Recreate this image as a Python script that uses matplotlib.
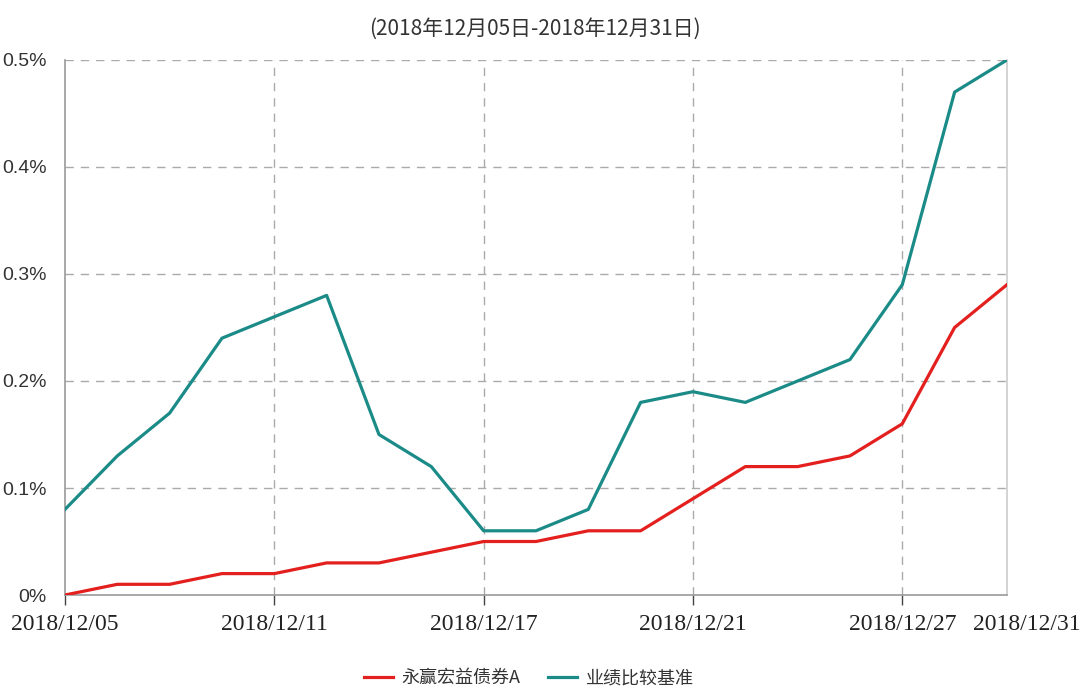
import matplotlib
matplotlib.use("Agg")
import matplotlib.pyplot as plt
import matplotlib.transforms as mtransforms
from matplotlib.ticker import FuncFormatter

dates = ["2018/12/05", "2018/12/06", "2018/12/07", "2018/12/10", "2018/12/11",
         "2018/12/12", "2018/12/13", "2018/12/14", "2018/12/17", "2018/12/18",
         "2018/12/19", "2018/12/20", "2018/12/21", "2018/12/24", "2018/12/25",
         "2018/12/26", "2018/12/27", "2018/12/28", "2018/12/31"]
fund = [0.00, 0.01, 0.01, 0.02, 0.02, 0.03, 0.03, 0.04, 0.05, 0.05,
        0.06, 0.06, 0.09, 0.12, 0.12, 0.13, 0.16, 0.25, 0.29]
bench = [0.08, 0.13, 0.17, 0.24, 0.26, 0.28, 0.15, 0.12, 0.06, 0.06,
         0.08, 0.18, 0.19, 0.18, 0.20, 0.22, 0.29, 0.47, 0.50]
label_dates = ["2018/12/05", "2018/12/11", "2018/12/17", "2018/12/21", "2018/12/27", "2018/12/31"]
y_ticks = [0, 0.1, 0.2, 0.3, 0.4, 0.5]
series_names = ["永赢宏益债券A", "业绩比较基准"]
title = "(2018年12月05日-2018年12月31日)"

cjk = ["Noto Sans CJK SC", "DejaVu Sans"]

fig = plt.figure(figsize=(10.81, 6.87), dpi=100)
ax = fig.add_axes([0.0601, 0.1339, 0.8714, 0.7788])

x = list(range(len(dates)))
l1, = ax.plot(x, fund, color="#e3201e", linewidth=2.3, label=series_names[0], zorder=3)
l2, = ax.plot(x, bench, color="#1b8b88", linewidth=2.3, label=series_names[1], zorder=3)

ax.set_xlim(0, len(dates) - 1)
ax.set_ylim(0, 0.5)

pos = [dates.index(d) for d in label_dates]
ax.set_xticks(pos)
ax.set_xticklabels(label_dates, family="Liberation Serif", fontsize=17, color="#222222")
ax.tick_params(axis="x", length=7, width=1, color="#444444", pad=7)
# last date label is pushed right and has no tick mark
last = ax.get_xticklabels()[-1]
last.set_transform(last.get_transform() + mtransforms.ScaledTranslation(20 / 100, 0, fig.dpi_scale_trans))
ax.xaxis.get_major_ticks()[-1].tick1line.set_visible(False)

ax.set_yticks(y_ticks)
ax.yaxis.set_major_formatter(FuncFormatter(lambda v, _: "0%" if v == 0 else f"{v:.1f}%"))
ax.tick_params(axis="y", length=0, pad=13, labelsize=14, labelcolor="#333333")
for t in ax.get_yticklabels():
    t.set_family(["Liberation Sans Narrow", "Liberation Sans"])

# vertical gridlines at the labelled dates, horizontal at each y tick
for p in pos[1:-1]:
    ax.axvline(p, color="#aaaaaa", linestyle=(0, (6, 5)), linewidth=1, zorder=1)
for v in y_ticks[1:]:
    ax.axhline(v, color="#aaaaaa", linestyle=(0, (6, 5)), linewidth=1, zorder=1)

ax.spines["top"].set_visible(False)
ax.spines["left"].set_color("#999999")
ax.spines["bottom"].set_color("#999999")
ax.spines["right"].set_color("#cccccc")
for s in ax.spines.values():
    s.set_linewidth(1.2)

fig.text(0.495, 0.958, title, ha="center", va="center", fontsize=15,
         family=cjk, color="#333333")

leg = fig.legend(handles=[l1, l2], loc="center", bbox_to_anchor=(0.489, 0.013),
                 ncol=2, frameon=False, handlelength=1.6, handletextpad=0.5,
                 columnspacing=1.5, borderpad=0.2,
                 prop={"family": cjk, "size": 13})
for t in leg.get_texts():
    t.set_color("#333333")

fig.savefig("out.png", dpi=100)
